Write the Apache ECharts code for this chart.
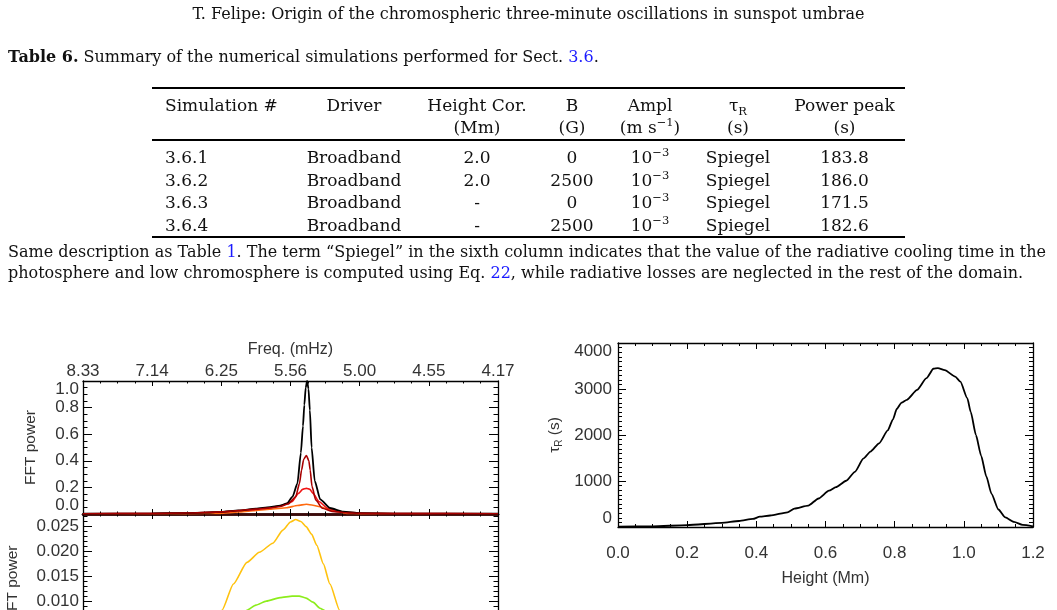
<!DOCTYPE html>
<html>
<head>
<meta charset="utf-8">
<script src="https://cdn.jsdelivr.net/npm/echarts@6/dist/echarts.min.js"></script>
<style>
html, body { margin: 0; padding: 0; width: 1057px; height: 610px; overflow: hidden; background: #fff; }
#chart { position: absolute; left: 0; top: 0; width: 1057px; height: 700px; }
.t { position: absolute; white-space: nowrap; font-family: "DejaVu Serif", serif; color: #111; line-height: 20px; z-index: 2; font-size: 16px; }
.lnk { color: #1a1aff; }
.rule { position: absolute; left: 152px; width: 753px; background: #000; z-index: 2; }
.row { position: absolute; left: 152px; width: 753px; height: 20px; line-height: 20px; font-family: "DejaVu Serif", serif; font-size: 17px; color: #111; white-space: nowrap; z-index: 2; }
.row span { position: absolute; top: 0; text-align: center; }
.c1 { left: 13px; text-align: left !important; }
.c2 { left: 138px; width: 128px; }
.c3 { left: 266px; width: 118px; }
.c4 { left: 384px; width: 72px; }
.c5 { left: 456px; width: 84px; }
.c6 { left: 540px; width: 92px; }
.c7 { left: 632px; width: 121px; }
sup { font-size: 11.5px; vertical-align: 7px; line-height: 0; }
sub { font-size: 11.5px; vertical-align: -4px; line-height: 0; }
</style>
</head>
<body>
<div class="t" style="left:0;width:1057px;text-align:center;top:4px;">T. Felipe: Origin of the chromospheric three-minute oscillations in sunspot umbrae</div>
<div class="t" style="left:8px;top:47px;"><b>Table 6.</b> Summary of the numerical simulations performed for Sect. <span class="lnk">3.6</span>.</div>

<div class="rule" style="top:86.5px;height:2.5px;"></div>
<div class="row" style="top:95px;"><span class="c1">Simulation #</span><span class="c2">Driver</span><span class="c3">Height Cor.</span><span class="c4">B</span><span class="c5">Ampl</span><span class="c6">τ<sub>R</sub></span><span class="c7">Power peak</span></div>
<div class="row" style="top:116.5px;"><span class="c3">(Mm)</span><span class="c4">(G)</span><span class="c5">(m s<sup>−1</sup>)</span><span class="c6">(s)</span><span class="c7">(s)</span></div>
<div class="rule" style="top:139px;height:2px;"></div>
<div class="row" style="top:147.3px;"><span class="c1">3.6.1</span><span class="c2">Broadband</span><span class="c3">2.0</span><span class="c4">0</span><span class="c5">10<sup>−3</sup></span><span class="c6">Spiegel</span><span class="c7">183.8</span></div>
<div class="row" style="top:170px;"><span class="c1">3.6.2</span><span class="c2">Broadband</span><span class="c3">2.0</span><span class="c4">2500</span><span class="c5">10<sup>−3</sup></span><span class="c6">Spiegel</span><span class="c7">186.0</span></div>
<div class="row" style="top:192.3px;"><span class="c1">3.6.3</span><span class="c2">Broadband</span><span class="c3">-</span><span class="c4">0</span><span class="c5">10<sup>−3</sup></span><span class="c6">Spiegel</span><span class="c7">171.5</span></div>
<div class="row" style="top:215px;"><span class="c1">3.6.4</span><span class="c2">Broadband</span><span class="c3">-</span><span class="c4">2500</span><span class="c5">10<sup>−3</sup></span><span class="c6">Spiegel</span><span class="c7">182.6</span></div>
<div class="rule" style="top:235.5px;height:2.5px;"></div>

<div class="t" style="left:8px;top:242px;">Same description as Table <span class="lnk">1</span>. The term “Spiegel” in the sixth column indicates that the value of the radiative cooling time in the</div>
<div class="t" style="left:8px;top:262.5px;">photosphere and low chromosphere is computed using Eq. <span class="lnk">22</span>, while radiative losses are neglected in the rest of the domain.</div>

<div id="chart"></div>
<script>
// top left panel: period (s) on x, normalised FFT power on y
var blackP = [120, 140, 150, 155, 160, 165, 170, 174, 177, 179, 180.6, 182.0, 183.0, 183.6, 184.0, 184.4, 184.8, 185.2, 185.6, 186.1, 187.0, 188.6, 191.4, 195.2, 200, 210, 225, 240];
var blackV = [0.002, 0.004, 0.007, 0.010, 0.016, 0.027, 0.040, 0.052, 0.062, 0.08, 0.13, 0.23, 0.46, 0.66, 0.82, 0.95, 1.0, 0.94, 0.78, 0.50, 0.25, 0.11, 0.045, 0.017, 0.006, 0.003, 0.002, 0.002];
var darkRedP = [120, 140, 150, 160, 165, 170, 174, 177, 179.3, 181.5, 182.6, 183.2, 183.8, 184.6, 185.3, 185.7, 186.2, 187.3, 189.2, 192, 196, 200, 210, 240];
var darkRedV = [0.002, 0.004, 0.007, 0.016, 0.026, 0.037, 0.046, 0.056, 0.075, 0.13, 0.23, 0.33, 0.41, 0.44, 0.40, 0.33, 0.21, 0.105, 0.043, 0.02, 0.009, 0.005, 0.003, 0.002];
var redP = [120, 140, 150, 160, 165, 170, 174, 177, 180.4, 182.3, 183.5, 184.6, 185.6, 186.5, 188.3, 190.7, 194, 200, 210, 240];
var redV = [0.002, 0.004, 0.007, 0.015, 0.024, 0.035, 0.045, 0.062, 0.092, 0.155, 0.185, 0.193, 0.185, 0.155, 0.092, 0.043, 0.018, 0.006, 0.003, 0.002];
var orangeP = [120, 140, 150, 159.6, 165, 169.2, 174, 178.9, 182, 184.6, 186.5, 188.5, 192.3, 196.2, 200, 210, 240];
var orangeV = [0.001, 0.002, 0.003, 0.005, 0.015, 0.025, 0.036, 0.047, 0.064, 0.073, 0.066, 0.055, 0.025, 0.005, 0.003, 0.002, 0.001];

// bottom left panel
var yellowP = [120, 140, 150, 155, 160.2, 163.5, 167.4, 171, 174.9, 177.8, 180, 181.5, 183, 184.5, 186.1, 187.6, 189.5, 191.4, 194.2, 197, 200, 210, 240];
var yellowV = [0.0005, 0.001, 0.002, 0.004, 0.0083, 0.0135, 0.0178, 0.0198, 0.0216, 0.0242, 0.0258, 0.0263, 0.0259, 0.0249, 0.0234, 0.0212, 0.0175, 0.0135, 0.0083, 0.004, 0.002, 0.001, 0.0005];
var greenP = [120, 140, 150, 160, 165, 167.4, 170, 173, 177, 180.5, 182.5, 184.5, 186.5, 188.5, 190, 193, 197, 200, 210, 240];
var greenV = [0.0003, 0.0008, 0.0015, 0.004, 0.0068, 0.0083, 0.0093, 0.0101, 0.0108, 0.0111, 0.0111, 0.0107, 0.0099, 0.0087, 0.0082, 0.006, 0.003, 0.0015, 0.0007, 0.0003];

// right panel: radiative cooling time
var heights = [0.0, 0.1, 0.2, 0.3, 0.35, 0.39, 0.41, 0.44, 0.49, 0.51, 0.55, 0.58, 0.61, 0.63, 0.66, 0.685, 0.71, 0.73, 0.755, 0.78, 0.795, 0.806, 0.82, 0.835, 0.865, 0.892, 0.912, 0.925, 0.945, 0.975, 0.99, 1.01, 1.02, 1.035, 1.05, 1.065, 1.08, 1.1, 1.12, 1.145, 1.17, 1.2];
var tauR = [5, 15, 40, 90, 130, 175, 225, 250, 320, 400, 465, 620, 790, 865, 1005, 1200, 1490, 1640, 1820, 2100, 2340, 2565, 2705, 2765, 2980, 3235, 3440, 3455, 3410, 3270, 3160, 2800, 2500, 2000, 1550, 1100, 720, 380, 210, 110, 45, 15];

// tick labels
var freqLabels = ['8.33', '7.14', '6.25', '5.56', '5.00', '4.55', '4.17'];
var fftTopLabels = ['0.0', '0.2', '0.4', '0.6', '0.8', '1.0'];
var fftBottomLabels = ['0.000', '0.005', '0.010', '0.015', '0.020', '0.025'];
var heightLabels = ['0.0', '0.2', '0.4', '0.6', '0.8', '1.0', '1.2'];
var tauLabels = ['0', '1000', '2000', '3000', '4000'];

function pairs(xs, ys) {
  return xs.map(function (x, i) { return [x, ys[i]]; });
}
function fromList(list, min, step) {
  return function (v) {
    var i = Math.round((v - min) / step);
    return Math.abs(v - (min + i * step)) < step * 1e-6 && list[i] !== undefined ? list[i] : '';
  };
}

var font = 'Liberation Sans';
var labelColor = '#333';

function axis(o) {
  return {
    type: 'value',
    gridIndex: o.grid,
    position: o.pos,
    min: o.min,
    max: o.max,
    interval: o.step,
    splitLine: { show: false },
    axisLine: { show: true, onZero: false, lineStyle: { color: o.lineColor || '#000', width: o.lineWidth || 1.3 } },
    axisTick: { show: true, inside: true, length: o.tick, lineStyle: { color: '#000', width: 1 } },
    minorTick: { show: true, splitNumber: o.minor, length: o.tick / 2, lineStyle: { color: '#000', width: 1 } },
    axisLabel: o.labels ? Object.assign({
      show: true,
      margin: o.margin,
      fontFamily: font,
      fontSize: 17,
      color: labelColor,
      formatter: fromList(o.labels, o.min, o.step)
    }, o.extra || {}) : { show: false },
    name: o.name || '',
    nameLocation: 'middle',
    nameGap: o.nameGap || 0,
    nameRotate: o.nameRotate,
    nameTextStyle: o.nameStyle || { fontFamily: font, fontSize: 16, color: labelColor }
  };
}

var xAxes = [
  axis({ grid: 0, pos: 'bottom', min: 120, max: 240, step: 20, minor: 4, tick: 5, lineWidth: 2.5, lineColor: '#3a0a0a' }),
  axis({ grid: 0, pos: 'top', min: 120, max: 240, step: 20, minor: 4, tick: 5, labels: freqLabels, margin: 1,
         name: 'Freq. (mHz)', nameGap: 23 }),
  axis({ grid: 1, pos: 'bottom', min: 120, max: 240, step: 20, minor: 4, tick: 5 }),
  axis({ grid: 1, pos: 'top', min: 120, max: 240, step: 20, minor: 4, tick: 5, lineWidth: 2.5, lineColor: '#3a0a0a' }),
  axis({ grid: 2, pos: 'bottom', min: 0, max: 1.2, step: 0.2, minor: 4, tick: 6, labels: heightLabels, margin: 18,
         name: 'Height (Mm)', nameGap: 44 }),
  axis({ grid: 2, pos: 'top', min: 0, max: 1.2, step: 0.2, minor: 4, tick: 6 })
];

var yAxes = [
  axis({ grid: 0, pos: 'left', min: 0, max: 1, step: 0.2, minor: 4, tick: 9, labels: fftTopLabels, margin: 4,
         extra: { verticalAlignMinLabel: 'bottom', verticalAlignMaxLabel: 'top' },
         name: 'FFT power', nameGap: 44, nameRotate: 90,
         nameStyle: { fontFamily: font, fontSize: 15.5, color: labelColor } }),
  axis({ grid: 0, pos: 'right', min: 0, max: 1, step: 0.2, minor: 4, tick: 9 }),
  axis({ grid: 1, pos: 'left', min: 0, max: 0.0274, step: 0.005, minor: 5, tick: 9, labels: fftBottomLabels, margin: 4,
         extra: { showMaxLabel: false },
         name: 'FFT power', nameGap: 62, nameRotate: 90,
         nameStyle: { fontFamily: font, fontSize: 15.5, color: labelColor } }),
  axis({ grid: 1, pos: 'right', min: 0, max: 0.0274, step: 0.005, minor: 5, tick: 9 }),
  axis({ grid: 2, pos: 'left', min: 0, max: 4000, step: 1000, minor: 10, tick: 8, labels: tauLabels, margin: 6,
         extra: { verticalAlignMinLabel: 'bottom', verticalAlignMaxLabel: 'top' },
         name: '{a|τ}{b|R}{a| (s)}', nameGap: 54, nameRotate: 90,
         nameStyle: { rich: {
           a: { fontFamily: font, fontSize: 15.5, color: labelColor },
           b: { fontFamily: font, fontSize: 10, color: labelColor, padding: [8, 0, 0, 0] }
         } } }),
  axis({ grid: 2, pos: 'right', min: 0, max: 4000, step: 1000, minor: 10, tick: 8 })
];

function line(name, data, color, xi, yi, width) {
  return {
    name: name,
    type: 'line',
    xAxisIndex: xi,
    yAxisIndex: yi,
    data: data,
    symbol: 'none',
    smooth: 0.2,
    smoothMonotone: 'x',
    lineStyle: { color: color, width: width || 1.6 },
    silent: true,
    animation: false
  };
}

var chart = echarts.init(document.getElementById('chart'), null, { renderer: 'canvas' });
chart.setOption({
  animation: false,
  backgroundColor: 'transparent',
  grid: [
    { left: 83, top: 381, width: 415, height: 133, outerBoundsMode: 'none' },
    { left: 83, top: 514, width: 415, height: 138, outerBoundsMode: 'none' },
    { left: 618, top: 343, width: 415, height: 184, outerBoundsMode: 'none' }
  ],
  xAxis: xAxes,
  yAxis: yAxes,
  series: [
    line('orange', pairs(orangeP, orangeV), '#ff6a10', 0, 0),
    line('red', pairs(redP, redV), '#f01515', 0, 0),
    line('black', pairs(blackP, blackV), '#000000', 0, 0, 1.8),
    line('darkred', pairs(darkRedP, darkRedV), '#a80000', 0, 0),
    line('green', pairs(greenP, greenV), '#8ced1c', 2, 2),
    line('yellow', pairs(yellowP, yellowV), '#ffc20e', 2, 2),
    line('tau', pairs(heights, tauR), '#000000', 4, 4, 1.8)
  ]
});
</script>
</body>
</html>
